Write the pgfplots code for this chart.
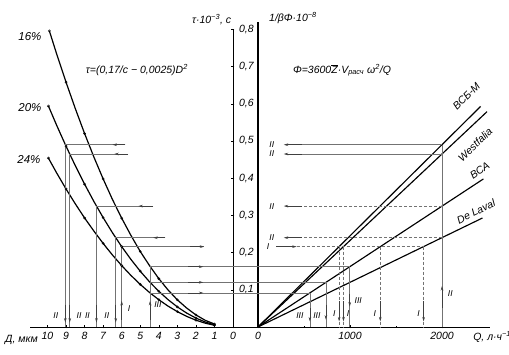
\documentclass[border=0pt]{standalone}
\usepackage{pgfplots}
\pgfplotsset{compat=1.18}
\usepackage{fontspec}
\setmainfont{Liberation Sans}
\usetikzlibrary{arrows.meta}
\tikzset{
 con/.style={black!55, line width=0.55pt},
 cond/.style={black!55, line width=0.55pt, densely dashed},
 arr/.style={black!75, line width=0.55pt, -{Stealth[length=4.5pt,width=2.6pt]}},
 lab/.style={font=\fontsize{8.5}{9}\selectfont\itshape, inner sep=0.5pt},
 big/.style={font=\fontsize{10.5}{12}\selectfont\itshape, inner sep=0pt},
}
\begin{document}
\begin{tikzpicture}
\path[use as bounding box] (0pt,0pt) rectangle (509pt,355pt);
% ---------------- left half: tau(D) ----------------
\begin{axis}[
 name=L, at={(29.88pt,28pt)}, anchor=south west,
 scale only axis, width=203.12pt, height=297.6pt,
 xmin=0, xmax=10.95, ymin=0, ymax=0.8, x dir=reverse,
 axis x line=bottom, axis y line=middle,
 axis line style={-, line width=0.7pt},
 xtick={0,1,2,3,4,5,6,7,8,9,10},
 xticklabels={0,1,2,3,4,5,6,7,8,9,10},
 ytick={0.1,0.2,0.3,0.4,0.5,0.6,0.7,0.8},
 yticklabels={{0,1},{0,2},{0,3},{0,4},{0,5},{0,6},{0,7},{0,8}},
 major tick length=3pt, tick style={black, line width=0.5pt},
 ticklabel style={font=\fontsize{10.5}{12}\selectfont\itshape},
 yticklabel style={anchor=west, xshift=4pt},
 clip=false,
]
% curves tau=(0.17/c-0.0025)D^2
\addplot[black, line width=1.2pt, mark=o, mark size=1.1pt, mark repeat=2, mark options={solid,fill=white,line width=0.5pt}] coordinates {
 (9.9,0.796) (9.5,0.733) (9,0.658) (8.5,0.587) (8,0.520) (7.5,0.457) (7,0.398) (6.5,0.343) (6,0.2925) (5.5,0.246) (5,0.203) (4.5,0.165) (4,0.130) (3.5,0.0995) (3,0.073) (2.5,0.051) (2,0.0325) (1.5,0.018) (1,0.008)};
\addplot[black, line width=1.2pt, mark=o, mark size=1.1pt, mark repeat=2, mark options={solid,fill=white,line width=0.5pt}] coordinates {
 (9.95,0.594) (9.5,0.5415) (9,0.486) (8.5,0.4335) (8,0.384) (7.5,0.3375) (7,0.294) (6.5,0.2535) (6,0.216) (5.5,0.1815) (5,0.15) (4.5,0.1215) (4,0.096) (3.5,0.0735) (3,0.054) (2.5,0.0375) (2,0.024) (1.5,0.0135) (1,0.006)};
\addplot[black, line width=1.2pt, mark=o, mark size=1.1pt, mark repeat=2, mark options={solid,fill=white,line width=0.5pt}] coordinates {
 (9.95,0.454) (9.5,0.4136) (9,0.371) (8.5,0.331) (8,0.293) (7.5,0.258) (7,0.2246) (6.5,0.1936) (6,0.165) (5.5,0.1386) (5,0.1146) (4.5,0.0928) (4,0.0733) (3.5,0.0561) (3,0.0413) (2.5,0.0286) (2,0.0183) (1.5,0.0103) (1,0.0046)};
% case II (from Q=2000): horizontals and verticals
\addplot[con] coordinates {(5.8,0.49) (9.04,0.49) (9.04,0)};
\addplot[con] coordinates {(5.65,0.465) (8.80,0.465) (8.80,0)};
\addplot[con] coordinates {(4.3,0.325) (7.36,0.325) (7.36,0)};
\addplot[con] coordinates {(3.65,0.24) (6.32,0.24) (6.32,0)};
\addplot[arr] coordinates {(5.8,0.49) (6.5,0.49)};
\addplot[arr] coordinates {(5.65,0.465) (6.4,0.465)};
\addplot[arr] coordinates {(4.3,0.325) (5.1,0.325)};
\addplot[arr] coordinates {(3.65,0.24) (4.3,0.24)};
\addplot[arr] coordinates {(9.04,0.06) (9.04,0.012)};
\addplot[arr] coordinates {(8.80,0.06) (8.80,0.012)};
\addplot[arr] coordinates {(7.36,0.06) (7.36,0.012)};
\addplot[arr] coordinates {(6.32,0.06) (6.32,0.012)};
\node[lab] at (axis cs:9.55,0.03) {II};
\node[lab] at (axis cs:8.3,0.03) {II};
\node[lab] at (axis cs:7.85,0.03) {II};
\node[lab] at (axis cs:6.8,0.03) {II};
% case I (D=6, c=20%)
\addplot[con] coordinates {(6,0) (6,0.216) (1.55,0.216)};
\addplot[arr] coordinates {(2.3,0.216) (1.55,0.216)};
\addplot[arr] coordinates {(6,0.02) (6,0.07)};
\node[lab] at (axis cs:5.6,0.05) {I};
% case III (D=4.47)
\addplot[con] coordinates {(4.47,0) (4.47,0.162)};
\addplot[con] coordinates {(4.47,0.162) (0,0.162)};
\addplot[con] coordinates {(4.47,0.12) (0,0.12)};
\addplot[con] coordinates {(4.47,0.0916) (0,0.0916)};
\addplot[arr] coordinates {(2.4,0.162) (1.6,0.162)};
\addplot[arr] coordinates {(2.4,0.12) (1.6,0.12)};
\addplot[arr] coordinates {(2.4,0.0916) (1.6,0.0916)};
\addplot[arr] coordinates {(4.47,0.02) (4.47,0.07)};
\node[lab] at (axis cs:4.05,0.06) {III};
% texts
\node[font=\fontsize{11.5}{13}\selectfont\itshape] at (axis cs:10.95,0.78) {16\%};
\node[font=\fontsize{11.5}{13}\selectfont\itshape] at (axis cs:10.95,0.589) {20\%};
\node[font=\fontsize{11.5}{13}\selectfont\itshape] at (axis cs:11.0,0.449) {24\%};
\node[big] at (axis cs:5.18,0.69) {τ=(0,17/c − 0,0025)D\textsuperscript{2}};
\node[big] at (axis cs:1.15,0.826) {τ·10\textsuperscript{−3}, c};
\node[big] at (axis cs:11.4,-0.036) {Д, мкм};
\end{axis}
% ---------------- right half: 1/(beta Phi)(Q) ----------------
\begin{axis}[
 name=R, at={(233.16pt,28pt)}, anchor=south west,
 scale only axis, width=256.68pt, height=305.04pt,
 xmin=-270, xmax=2520, ymin=0, ymax=0.82,
 axis x line=bottom, axis y line=middle,
 axis line style={-, line width=0.7pt},
 y axis line style={line width=1.7pt},
 xtick={0,1000,2000}, xticklabels={0,1000,2000},
 minor xtick={500,1500},
 ytick=\empty,
 major tick length=3pt, minor tick length=2pt, tick style={black, line width=0.5pt},
 ticklabel style={font=\fontsize{10.5}{12}\selectfont\itshape},
 clip=false,
]
% separator lines
\addplot[black, line width=1.15pt] coordinates {(0,0) (2420,0.593)};
\addplot[black, line width=1.15pt] coordinates {(0,0) (2490,0.579)};
\addplot[black, line width=1.15pt] coordinates {(0,0) (2450,0.398)};
\addplot[black, line width=1.15pt] coordinates {(0,0) (2440,0.293)};
\node[big, rotate=45] at (axis cs:2265,0.62) {ВСБ-М};
\node[big, rotate=44] at (axis cs:2360,0.49) {Westfalia};
\node[big, rotate=34] at (axis cs:2410,0.42) {ВСА};
\node[big, rotate=26] at (axis cs:2370,0.31) {De Laval};
% case II: Q=2000
\addplot[con] coordinates {(2000,0) (2000,0.49)};
\addplot[arr] coordinates {(2000,0.05) (2000,0.11)};
\node[lab] at (axis cs:2090,0.09) {II};
\addplot[con] coordinates {(2000,0.49) (480,0.49)};
\addplot[con] coordinates {(2000,0.465) (480,0.465)};
\addplot[cond] coordinates {(2000,0.325) (480,0.325)};
\addplot[cond] coordinates {(2000,0.24) (480,0.24)};
\addplot[arr] coordinates {(480,0.49) (280,0.49)};
\addplot[arr] coordinates {(480,0.465) (280,0.465)};
\addplot[arr] coordinates {(480,0.325) (280,0.325)};
\addplot[arr] coordinates {(480,0.24) (280,0.24)};
\node[lab] at (axis cs:150,0.49) {II};
\node[lab] at (axis cs:150,0.465) {II};
\node[lab] at (axis cs:150,0.325) {II};
\node[lab] at (axis cs:150,0.24) {II};
% case I: tau=0.216
\node[lab] at (axis cs:110,0.216) {I};
\addplot[arr] coordinates {(200,0.216) (420,0.216)};
\addplot[cond] coordinates {(420,0.216) (1800,0.216)};
\addplot[cond] coordinates {(882,0.216) (882,0)};
\addplot[cond] coordinates {(929,0.216) (929,0)};
\addplot[cond] coordinates {(1329,0.216) (1329,0)};
\addplot[cond] coordinates {(1800,0.216) (1800,0)};
\addplot[arr] coordinates {(882,0.07) (882,0.015)};
\addplot[arr] coordinates {(929,0.07) (929,0.015)};
\addplot[arr] coordinates {(1329,0.07) (1329,0.015)};
\addplot[arr] coordinates {(1800,0.07) (1800,0.015)};
\node[lab] at (axis cs:830,0.035) {I};
\node[lab] at (axis cs:980,0.035) {I};
\node[lab] at (axis cs:1270,0.035) {I};
\node[lab] at (axis cs:1745,0.035) {I};
% case III: to ВСА
\addplot[con] coordinates {(-270,0.162) (997,0.162) (997,0)};
\addplot[con] coordinates {(-270,0.12) (738,0.12) (738,0)};
\addplot[con] coordinates {(-270,0.0916) (564,0.0916) (564,0)};
\addplot[arr] coordinates {(997,0.09) (997,0.055)};
\addplot[arr] coordinates {(738,0.06) (738,0.02)};
\addplot[arr] coordinates {(564,0.05) (564,0.015)};
\node[lab] at (axis cs:1090,0.07) {III};
\node[lab] at (axis cs:640,0.03) {III};
\node[lab] at (axis cs:455,0.03) {III};
% texts
\node[big] at (axis cs:380,0.83) {1/βΦ·10\textsuperscript{−8}};
\node[big] at (axis cs:913,0.69) {Φ=3600$\overline{\mbox{\itshape Z}}$·V\textsubscript{расч} ω\textsuperscript{2}/Q};
\node[big] at (axis cs:2545,-0.026) {Q, л·ч\textsuperscript{−1}};
\end{axis}
\end{tikzpicture}
\end{document}
